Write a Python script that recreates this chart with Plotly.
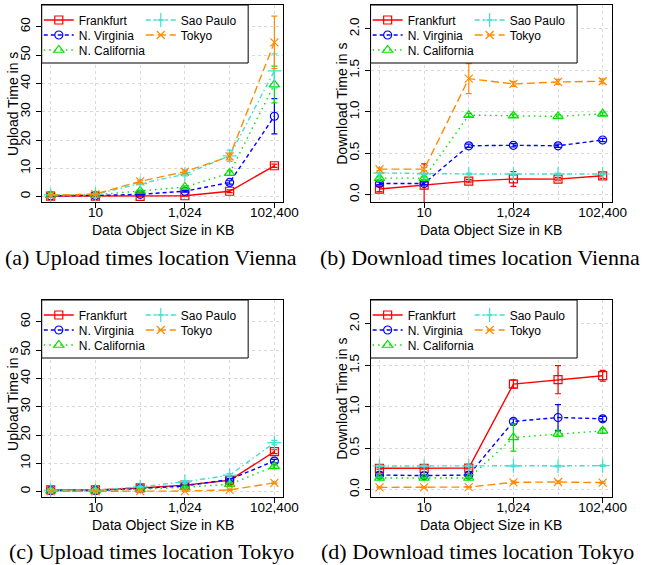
import plotly.graph_objects as go

# ---------------- data ----------------
X_POS = [1, 2, 3, 4, 5, 6]
TICK_POS = [2, 4, 6]
TICK_LABELS = ["10", "1,024", "102,400"]
SERIES = ["Frankfurt", "N. Virginia", "N. California", "Sao Paulo", "Tokyo"]

# (a) Upload times, location Vienna (s)
UP_VIE = {
    "Frankfurt":     [0.2, 0.2, 0.1, 0.3, 1.9, 10.9],
    "N. Virginia":   [0.3, 0.4, 0.8, 1.9, 5.0, 28.4],
    "N. California": [0.5, 0.6, 2.0, 3.4, 8.3, 39.6],
    "Sao Paulo":     [0.6, 0.8, 4.6, 7.9, 14.4, 44.4],
    "Tokyo":         [0.5, 0.9, 5.4, 8.8, 14.2, 54.5],
}
UP_VIE_ERR = {
    "Frankfurt":     [0.1, 0.1, 0.1, 0.1, 0.5, 0.6],
    "N. Virginia":   [0.1, 0.1, 0.2, 0.3, 0.6, 6.2],
    "N. California": [0.1, 0.1, 0.3, 0.4, 0.8, 6.5],
    "Sao Paulo":     [0.1, 0.1, 0.4, 0.6, 2.0, 6.0],
    "Tokyo":         [0.1, 0.1, 0.4, 0.6, 1.2, 9.3],
}

# (b) Download times, location Vienna (s)
DN_VIE = {
    "Frankfurt":     [0.068, 0.116, 0.164, 0.190, 0.188, 0.228],
    "N. Virginia":   [0.136, 0.136, 0.590, 0.596, 0.590, 0.660],
    "N. California": [0.200, 0.200, 0.960, 0.952, 0.944, 0.976],
    "Sao Paulo":     [0.262, 0.252, 0.250, 0.250, 0.250, 0.250],
    "Tokyo":         [0.308, 0.308, 1.400, 1.336, 1.360, 1.368],
}
DN_VIE_ERR = {
    "Frankfurt":     [0.03, 0.255, 0.02, 0.09, 0.02, 0.03],
    "N. Virginia":   [0.015, 0.015, 0.02, 0.02, 0.02, 0.02],
    "N. California": [0.015, 0.015, 0.02, 0.02, 0.02, 0.02],
    "Sao Paulo":     [0.01, 0.01, 0.01, 0.01, 0.01, 0.01],
    "Tokyo":         [0.015, 0.02, 0.18, 0.03, 0.03, 0.03],
}

# (c) Upload times, location Tokyo (s)
UP_TYO = {
    "Frankfurt":     [0.6, 0.6, 1.3, 2.3, 4.0, 14.1],
    "N. Virginia":   [0.4, 0.4, 1.1, 2.0, 4.3, 10.8],
    "N. California": [0.3, 0.3, 0.9, 1.5, 2.6, 8.9],
    "Sao Paulo":     [0.5, 0.5, 1.7, 3.5, 5.8, 17.3],
    "Tokyo":         [0.1, 0.1, 0.2, 0.2, 0.6, 3.1],
}
UP_TYO_ERR = {
    "Frankfurt":     [0.1, 0.1, 0.2, 0.3, 0.4, 0.7],
    "N. Virginia":   [0.1, 0.1, 0.2, 0.3, 0.4, 0.6],
    "N. California": [0.1, 0.1, 0.2, 0.3, 0.4, 0.6],
    "Sao Paulo":     [0.1, 0.1, 0.2, 0.4, 0.6, 0.8],
    "Tokyo":         [0.05, 0.05, 0.1, 0.1, 0.2, 0.3],
}

# (d) Download times, location Tokyo (s)
DN_TYO = {
    "Frankfurt":     [0.258, 0.258, 0.260, 1.274, 1.327, 1.375],
    "N. Virginia":   [0.177, 0.170, 0.177, 0.823, 0.871, 0.855],
    "N. California": [0.141, 0.141, 0.141, 0.630, 0.673, 0.710],
    "Sao Paulo":     [0.286, 0.286, 0.286, 0.288, 0.284, 0.290],
    "Tokyo":         [0.028, 0.028, 0.032, 0.089, 0.093, 0.085],
}
DN_TYO_ERR = {
    "Frankfurt":     [0.01, 0.01, 0.01, 0.05, 0.17, 0.065],
    "N. Virginia":   [0.01, 0.01, 0.01, 0.03, 0.155, 0.03],
    "N. California": [0.01, 0.01, 0.01, 0.165, 0.03, 0.03],
    "Sao Paulo":     [0.01, 0.01, 0.01, 0.01, 0.01, 0.01],
    "Tokyo":         [0.005, 0.005, 0.005, 0.015, 0.015, 0.01],
}

UPLOAD_TICKS = [0, 10, 20, 30, 40, 50, 60]
DOWNLOAD_TICKS = [0.0, 0.5, 1.0, 1.5, 2.0]
X_TITLE = "Data Object Size in KB"

# ---------------- styling ----------------
W, H = 652, 565
SANS = "Liberation Sans, Arial, Helvetica, sans-serif"
SERIF = "Liberation Serif, Times New Roman, serif"
GRID = "#D9D9D9"

STYLE = {
    "Frankfurt":     dict(color="#FF0000", symbol="square-open", dash="solid", size=8),
    "N. Virginia":   dict(color="#0000FF", symbol="circle-open", dash="4px,3px", size=8),
    "N. California": dict(color="#00E000", symbol="triangle-up-open", dash="1.5px,4px", size=9),
    "Sao Paulo":     dict(color="#40E0D0", symbol="cross-thin-open", dash="5px,3px,1.5px,3px", size=10),
    "Tokyo":         dict(color="#FF8C00", symbol="x-thin-open", dash="8px,4px", size=8),
}
LEGEND_ROWS = [["Frankfurt", "Sao Paulo"], ["N. Virginia", "Tokyo"], ["N. California"]]


def fx(px):
    return px / W


def fy(py):
    return 1 - py / H


PANELS = [
    dict(vals=UP_VIE, errs=UP_VIE_ERR, ytitle="Upload Time in s", ticks=UPLOAD_TICKS, fmt="d",
         yrange=[-1.9, 67.7], left=42.7, right=290, top=5, bottom=202,
         caption="(a) Upload times location Vienna", cap_x=155, cap_y=257, box_right=254),
    dict(vals=DN_VIE, errs=DN_VIE_ERR, ytitle="Download Time in s", ticks=DOWNLOAD_TICKS, fmt=".1f",
         yrange=[-0.088, 2.288], left=379.3, right=626, top=5, bottom=202,
         caption="(b) Download times location Vienna", cap_x=491, cap_y=257, box_right=590.7),
    dict(vals=UP_TYO, errs=UP_TYO_ERR, ytitle="Upload Time in s", ticks=UPLOAD_TICKS, fmt="d",
         yrange=[-1.9, 67.7], left=42.7, right=290, top=300, bottom=497,
         caption="(c) Upload times location Tokyo", cap_x=155, cap_y=551, box_right=254),
    dict(vals=DN_TYO, errs=DN_TYO_ERR, ytitle="Download Time in s", ticks=DOWNLOAD_TICKS, fmt=".1f",
         yrange=[-0.088, 2.288], left=379.3, right=626, top=300, bottom=497,
         caption="(d) Download times location Tokyo", cap_x=489, cap_y=551, box_right=590.7),
]

fig = go.Figure()
layout = dict(
    width=W, height=H, margin=dict(l=0, r=0, t=0, b=0),
    paper_bgcolor="white", plot_bgcolor="white",
    font=dict(family=SANS, size=14, color="black"),
    shapes=[], annotations=[],
)

for i, p in enumerate(PANELS):
    n = i + 1
    xa = "x" if n == 1 else f"x{n}"
    ya = "y" if n == 1 else f"y{n}"
    xkey = "xaxis" if n == 1 else f"xaxis{n}"
    ykey = "yaxis" if n == 1 else f"yaxis{n}"

    # legends: one horizontal legend per legend row
    leg_names = {}
    for r, row in enumerate(LEGEND_ROWS):
        idx = i * 3 + r + 1
        lname = "legend" if idx == 1 else f"legend{idx}"
        for s in row:
            leg_names[s] = lname
        layout[lname] = dict(
            x=fx(p["left"] - 3), y=fy(p["top"] + 15 + 15 * r),
            xanchor="left", yanchor="middle", orientation="h",
            entrywidth=57 if len(row) > 1 else 110, entrywidthmode="pixels",
            bgcolor="rgba(0,0,0,0)", borderwidth=0,
            font=dict(family=SANS, size=12, color="black"),
            itemclick=False, itemdoubleclick=False,
        )

    for s in SERIES:
        st = STYLE[s]
        fig.add_trace(go.Scatter(
            x=X_POS, y=p["vals"][s], name=s, xaxis=xa, yaxis=ya,
            mode="lines+markers", legend=leg_names[s],
            line=dict(color=st["color"], width=1.4, dash=st["dash"]),
            marker=dict(symbol=st["symbol"], size=st["size"], color=st["color"],
                        line=dict(color=st["color"], width=1.2)),
            error_y=dict(type="data", array=p["errs"][s], visible=True,
                         color=st["color"], thickness=1.2, width=3),
            cliponaxis=True,
        ))

    layout[xkey] = dict(
        domain=[fx(p["left"]), fx(p["right"])], anchor=ya,
        range=[0.8, 6.2], tickmode="array", tickvals=TICK_POS, ticktext=TICK_LABELS,
        showline=True, mirror=True, linecolor="black", linewidth=1,
        ticks="outside", ticklen=5, tickwidth=1, tickcolor="black",
        ticklabelstandoff=-7,
        showgrid=True, gridcolor=GRID, griddash="dot", gridwidth=1,
        minor=dict(tickmode="array", tickvals=[1, 3, 5], showgrid=True,
                   gridcolor=GRID, griddash="dot", gridwidth=1, ticks=""),
        zeroline=False, tickfont=dict(size=13.5, family=SANS, color="black"),
        fixedrange=True,
    )
    layout[ykey] = dict(
        domain=[fy(p["bottom"]), fy(p["top"])], anchor=xa,
        range=p["yrange"], tickmode="array", tickvals=p["ticks"], tickformat=p["fmt"],
        tickangle=-90,
        showline=True, mirror=True, linecolor="black", linewidth=1,
        ticks="outside", ticklen=5, tickwidth=1, tickcolor="black",
        showgrid=True, gridcolor=GRID, griddash="dot", gridwidth=1,
        zeroline=False, tickfont=dict(size=13.5, family=SANS, color="black"),
        fixedrange=True,
    )

    # axis titles
    layout["annotations"].append(dict(
        text=X_TITLE, xref="paper", yref="paper",
        x=fx((p["left"] + p["right"]) / 2), y=fy(p["bottom"] + 27.5),
        xanchor="center", yanchor="middle", showarrow=False,
        font=dict(family=SANS, size=14, color="black"),
    ))
    layout["annotations"].append(dict(
        text=p["ytitle"], xref="paper", yref="paper", textangle=-90,
        x=fx(p["left"] - 30), y=fy((p["top"] + p["bottom"]) / 2),
        xanchor="center", yanchor="middle", showarrow=False,
        font=dict(family=SANS, size=14, color="black"),
    ))

    # legend frame
    layout["shapes"].append(dict(
        type="rect", xref="paper", yref="paper", layer="above",
        x0=fx(p["left"]), x1=fx(p["box_right"]), y0=fy(p["top"] + 58), y1=fy(p["top"]),
        line=dict(color="black", width=1), fillcolor="white",
    ))
    # caption
    layout["annotations"].append(dict(
        text=p["caption"], xref="paper", yref="paper",
        x=fx(p["cap_x"]), y=fy(p["cap_y"]), xanchor="center", yanchor="middle",
        showarrow=False, font=dict(family=SERIF, size=22, color="black"),
    ))

fig.update_layout(**layout)
fig.write_html("out.html", post_script="document.body.style.margin='0';",
               config={"displayModeBar": False})
